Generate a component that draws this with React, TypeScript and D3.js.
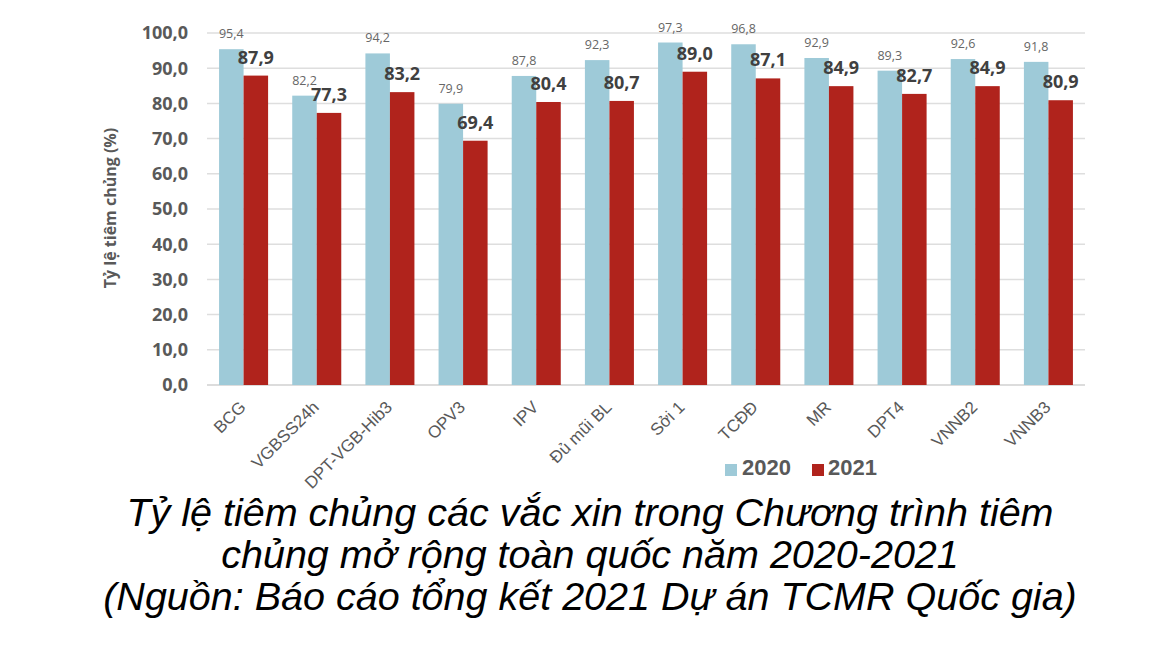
import React from "react";
import * as d3 from "d3";

const categories = ["BCG", "VGBSS24h", "DPT-VGB-Hib3", "OPV3", "IPV", "Đủ mũi BL", "Sởi 1", "TCĐĐ", "MR", "DPT4", "VNNB2", "VNNB3"];
const values2020 = [95.4, 82.2, 94.2, 79.9, 87.8, 92.3, 97.3, 96.8, 92.9, 89.3, 92.6, 91.8];
const values2021 = [87.9, 77.3, 83.2, 69.4, 80.4, 80.7, 89.0, 87.1, 84.9, 82.7, 84.9, 80.9];
const yTicks = [0, 10, 20, 30, 40, 50, 60, 70, 80, 90, 100];
const seriesNames = ["2020", "2021"];
const colors = ["#9ECAD8", "#B0231C"];
const captionLines = [
  "Tỷ lệ tiêm chủng các vắc xin trong Chương trình tiêm",
  "chủng mở rộng toàn quốc năm 2020-2021",
  "(Nguồn: Báo cáo tổng kết 2021 Dự án TCMR Quốc gia)",
];

const fmt = (v: number) => v.toFixed(1).replace(".", ",");

export default function App() {
  const W = 1169, H = 653;
  const left = 207, right = 1085, top = 33, bottom = 385;
  const x = d3.scaleBand<string>().domain(categories).range([left, right]).paddingInner(0.33).paddingOuter(0.165);
  const x1 = d3.scaleBand<string>().domain(seriesNames).range([0, x.bandwidth()]);
  const y = d3.scaleLinear().domain([0, 100]).range([bottom, top]);
  const font = "Arial, 'Liberation Sans', sans-serif";
  const labelFont = "'Open Sans', 'DejaVu Sans', sans-serif";
  const gray = "#595959";
  const series = [values2020, values2021];
  return (
    <svg width={W} height={H} style={{ position: "absolute", left: 0, top: 0, background: "#fff" }}>
      <rect width={W} height={H} fill="#fff" />
      {yTicks.map((t) => (
        <g key={t}>
          <line x1={left} x2={right} y1={y(t)} y2={y(t)} stroke={t === 0 ? "#d0d0d0" : "#dedede"} strokeWidth={1.5} />
          <text x={188} y={y(t)} dy="0.36em" textAnchor="end" fontFamily={labelFont} fontWeight="bold" fontSize={18} fill={gray}>
            {fmt(t)}
          </text>
        </g>
      ))}
      <text transform={`translate(110,${(top + bottom) / 2 - 1}) rotate(-90)`} textAnchor="middle" fontFamily={labelFont} fontWeight="bold" fontSize={16} fill={gray} dy="0.35em">
        Tỷ lệ tiêm chủng (%)
      </text>
      {categories.map((c, i) => (
        <g key={c}>
          {series.map((vals, s) => {
            const bx = (x(c) as number) + (x1(seriesNames[s]) as number);
            const bw = x1.bandwidth();
            return (
              <g key={s}>
                <rect x={bx} y={y(vals[i])} width={bw} height={bottom - y(vals[i])} fill={colors[s]} />
                <text
                  x={bx + bw / 2}
                  y={y(vals[i]) - (s === 0 ? 11 : 12)}
                  textAnchor="middle"
                  fontFamily={labelFont}
                  fontWeight={s === 0 ? "normal" : "bold"}
                  fontSize={s === 0 ? 12.5 : 18}
                  fill={s === 0 ? "#666" : "#404040"}
                >
                  {fmt(vals[i])}
                </text>
              </g>
            );
          })}
          <text
            transform={`translate(${(x(c) as number) + x.bandwidth() / 2 - 1},${bottom + 19}) rotate(-45)`}
            textAnchor="end"
            fontFamily={font}
            fontSize={17}
            fill={gray}
            dy="0.35em"
          >
            {c}
          </text>
        </g>
      ))}
      <g>
        <rect x={725} y={464} width={12} height={12} fill={colors[0]} />
        <text x={742} y={475} fontFamily={font} fontWeight="bold" fontSize={22} fill={gray}>2020</text>
        <rect x={812} y={464} width={12} height={12} fill={colors[1]} />
        <text x={828} y={475} fontFamily={font} fontWeight="bold" fontSize={22} fill={gray}>2021</text>
      </g>
      {captionLines.map((l, i) => (
        <text key={i} x={590} y={526 + i * 42} textAnchor="middle" fontFamily={font} fontStyle="italic" fontSize={39.5} fill="#000">
          {l}
        </text>
      ))}
    </svg>
  );
}
